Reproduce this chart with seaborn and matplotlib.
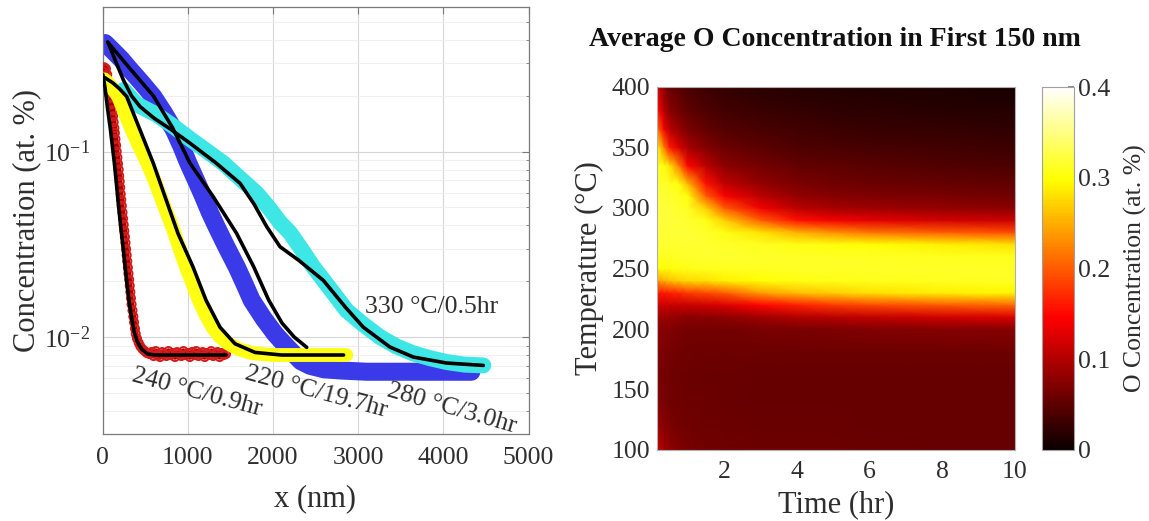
import numpy as np
import matplotlib
matplotlib.use("Agg")
import matplotlib.pyplot as plt
import seaborn as sns
from matplotlib.ticker import LogLocator, NullLocator, NullFormatter, FixedLocator

# ---------------- left panel: depth profiles (x in nm, concentration in at.%) ----------------
red_x = [5, 20, 40, 55, 70, 82, 93, 100, 108, 116, 124, 131, 139, 145, 152, 160, 167, 175,
         182, 190, 196, 202, 208, 214, 220, 227, 235, 242, 249, 256, 263, 270, 277, 284, 291,
         298, 305, 313, 320, 327, 334, 341, 352, 362, 371, 381, 390, 405, 425, 445, 470, 495,
         520, 550,
         575, 600, 625, 650, 675, 700, 725, 750, 775, 800, 825, 850, 875, 900, 925, 950, 975,
         1000, 1025, 1050, 1075, 1100, 1125, 1150, 1175, 1200, 1225, 1250, 1275, 1300, 1325,
         1350, 1375, 1400, 1425, 1450]
red_c = [0.27, 0.285, 0.28, 0.26, 0.24, 0.223, 0.207, 0.195, 0.18, 0.167, 0.155, 0.144,
         0.134, 0.126, 0.117, 0.108, 0.1, 0.093, 0.086, 0.08, 0.074, 0.069, 0.064, 0.059,
         0.055, 0.051, 0.047, 0.0435, 0.0403, 0.0374, 0.0347, 0.0322, 0.0298, 0.0276, 0.0256,
         0.0237, 0.022, 0.0204, 0.0189, 0.0175, 0.0162, 0.015, 0.0139, 0.0129, 0.012, 0.0111,
         0.0104, 0.0098, 0.0093, 0.0089, 0.0086, 0.0084, 0.0082, 0.0081,
         0.0083, 0.0079, 0.0084, 0.0080, 0.0078, 0.0083, 0.0081, 0.0079, 0.0084, 0.0080,
         0.0082, 0.0078, 0.0083, 0.0081, 0.0079, 0.0084, 0.0080, 0.0082, 0.0078, 0.0083,
         0.0080, 0.0084, 0.0079, 0.0081, 0.0083, 0.0078, 0.0082, 0.0080, 0.0084, 0.0079,
         0.0081, 0.0083, 0.0078, 0.0082, 0.0080, 0.0081]
red_fit_x = [5, 30, 60, 90, 115, 140, 165, 190, 215, 240, 265, 290, 315, 345, 375, 410, 460,
             530, 620, 1450]
red_fit_c = [0.26, 0.22, 0.17, 0.135, 0.108, 0.086, 0.066, 0.05, 0.039, 0.031, 0.024, 0.019,
             0.0152, 0.0124, 0.0105, 0.0094, 0.0086, 0.0081, 0.0080, 0.0080]

yellow_x = [25, 90, 185, 260, 343, 430, 526, 605, 683, 760, 830, 905, 980, 1060, 1130, 1210,
            1290, 1380, 1480, 1600, 1750, 2000, 2300, 2600, 2860]
yellow_c = [0.245, 0.228, 0.198, 0.162, 0.131, 0.107, 0.0866, 0.071, 0.0571, 0.046, 0.038,
            0.030, 0.0239, 0.0192, 0.0158, 0.0132, 0.0113, 0.0100, 0.0092, 0.0086, 0.0082,
            0.0080, 0.0080, 0.0080, 0.0080]
yellow_fit_x = [30, 120, 200, 284, 440, 596, 734, 886, 1062, 1215, 1379, 1555, 1790, 2100,
                2500, 2830]
yellow_fit_c = [0.25, 0.235, 0.218, 0.198, 0.131, 0.0866, 0.0571, 0.0362, 0.0239, 0.0158,
                0.0113, 0.0092, 0.00826, 0.0080, 0.0080, 0.0080]

blue_x = [30, 108, 220, 323, 460, 596, 720, 839, 925, 1007, 1095, 1183, 1260, 1338, 1455,
          1575, 1665, 1751, 1890, 2025, 2130, 2224, 2330, 2435, 2600, 2800, 3100, 3500, 3900,
          4330]
blue_c = [0.385, 0.355, 0.315, 0.277, 0.235, 0.198, 0.162, 0.131, 0.107, 0.0866, 0.0705,
          0.0571, 0.047, 0.0394, 0.0306, 0.0239, 0.0194, 0.0158, 0.0126, 0.0104, 0.0092,
          0.0083, 0.0074, 0.0070, 0.0067, 0.0066, 0.0065, 0.0065, 0.0065, 0.0065]
blue_fit_x = [60, 323, 596, 820, 1027, 1300, 1574, 1775, 1951, 2107, 2250, 2397]
blue_fit_c = [0.39, 0.28, 0.2, 0.135, 0.0866, 0.0571, 0.0362, 0.0239, 0.0158, 0.0119,
              0.0100, 0.0088]

cyan_x = [250, 400, 636, 830, 1027, 1220, 1418, 1610, 1810, 1950, 2083, 2201, 2330, 2474,
          2660, 2866, 3060, 3257, 3450, 3644, 3840, 4040, 4250, 4469]
cyan_c = [0.215, 0.18, 0.158, 0.137, 0.117, 0.101, 0.0866, 0.072, 0.0596, 0.050, 0.0415,
          0.0365, 0.030, 0.0239, 0.0185, 0.0139, 0.0117, 0.0100, 0.0089, 0.00817, 0.0077,
          0.00733, 0.0071, 0.00703]
cyan_fit_x = [68, 150, 244, 340, 440, 600, 800, 1027, 1330, 1614, 1780, 1927, 2083, 2300,
              2592, 2850, 3061, 3374, 3648, 4040, 4469]
cyan_fit_c = [0.385, 0.31, 0.244, 0.2, 0.175, 0.152, 0.132, 0.111, 0.087, 0.0675, 0.052,
              0.0394, 0.0307, 0.026, 0.0202, 0.0145, 0.0113, 0.00883, 0.0078, 0.00724, 0.00703]

labels = ["330 \u00b0C/0.5hr", "240 \u00b0C/0.9hr", "220 \u00b0C/19.7hr", "280 \u00b0C/3.0hr"]
label_x = [3864, 1109, 2506, 4102]
label_c = [0.01453, 0.00502, 0.00502, 0.00412]
label_rot = [0, -15, -15, -16]

# ---------------- right panel: average O concentration in first 150 nm ----------------
times = [0.1, 0.2, 0.35, 0.5, 0.75, 1.0, 1.5, 2.0, 3.0, 4.0, 5.0, 6.0, 8.0, 10.0]
temps = [100, 120, 140, 160, 180, 200, 210, 220, 230, 240, 250, 260, 270, 280, 290, 300,
         310, 320, 335, 350, 365, 380, 400]
# one row per time, values listed by increasing temperature (at. %)
o_conc_by_time = [
    [0.14, 0.1, 0.08, 0.075, 0.078, 0.08, 0.09, 0.115, 0.15, 0.22, 0.29, 0.31, 0.32, 0.322, 0.324, 0.324, 0.322, 0.32, 0.315, 0.3, 0.24, 0.18, 0.14],
    [0.11, 0.085, 0.072, 0.068, 0.072, 0.078, 0.09, 0.12, 0.16, 0.24, 0.30, 0.312, 0.319, 0.321, 0.322, 0.322, 0.321, 0.317, 0.31, 0.28, 0.2, 0.15, 0.11],
    [0.09, 0.075, 0.066, 0.064, 0.068, 0.074, 0.087, 0.115, 0.16, 0.25, 0.30, 0.312, 0.317, 0.32, 0.321, 0.321, 0.319, 0.315, 0.302, 0.22, 0.14, 0.1, 0.075],
    [0.08, 0.068, 0.062, 0.061, 0.064, 0.072, 0.085, 0.115, 0.165, 0.26, 0.302, 0.312, 0.317, 0.319, 0.32, 0.319, 0.316, 0.31, 0.28, 0.16, 0.105, 0.078, 0.057],
    [0.072, 0.064, 0.06, 0.059, 0.062, 0.068, 0.08, 0.115, 0.17, 0.27, 0.305, 0.314, 0.317, 0.319, 0.319, 0.316, 0.31, 0.302, 0.22, 0.125, 0.085, 0.063, 0.047],
    [0.066, 0.061, 0.059, 0.058, 0.06, 0.065, 0.078, 0.115, 0.18, 0.275, 0.307, 0.315, 0.318, 0.319, 0.317, 0.312, 0.302, 0.255, 0.15, 0.095, 0.068, 0.052, 0.039],
    [0.062, 0.059, 0.058, 0.057, 0.059, 0.064, 0.078, 0.12, 0.19, 0.28, 0.309, 0.316, 0.317, 0.315, 0.307, 0.27, 0.2, 0.155, 0.105, 0.072, 0.054, 0.042, 0.031],
    [0.06, 0.058, 0.057, 0.057, 0.058, 0.064, 0.08, 0.125, 0.2, 0.29, 0.31, 0.316, 0.315, 0.305, 0.27, 0.2, 0.145, 0.11, 0.078, 0.058, 0.045, 0.035, 0.025],
    [0.059, 0.057, 0.056, 0.056, 0.058, 0.066, 0.09, 0.15, 0.24, 0.3, 0.312, 0.315, 0.31, 0.28, 0.2, 0.14, 0.105, 0.082, 0.063, 0.049, 0.038, 0.029, 0.02],
    [0.058, 0.057, 0.056, 0.056, 0.058, 0.068, 0.1, 0.165, 0.26, 0.305, 0.314, 0.314, 0.305, 0.25, 0.155, 0.105, 0.082, 0.068, 0.054, 0.042, 0.033, 0.025, 0.017],
    [0.058, 0.057, 0.056, 0.056, 0.058, 0.07, 0.105, 0.18, 0.27, 0.307, 0.314, 0.312, 0.302, 0.23, 0.14, 0.093, 0.074, 0.062, 0.05, 0.039, 0.03, 0.023, 0.015],
    [0.057, 0.056, 0.056, 0.056, 0.058, 0.072, 0.11, 0.19, 0.28, 0.309, 0.314, 0.311, 0.3, 0.215, 0.13, 0.088, 0.07, 0.059, 0.047, 0.036, 0.028, 0.021, 0.013],
    [0.056, 0.055, 0.055, 0.055, 0.058, 0.074, 0.12, 0.2, 0.29, 0.31, 0.314, 0.31, 0.29, 0.2, 0.12, 0.082, 0.066, 0.055, 0.043, 0.033, 0.025, 0.018, 0.011],
    [0.056, 0.055, 0.055, 0.055, 0.058, 0.075, 0.125, 0.21, 0.295, 0.311, 0.314, 0.309, 0.28, 0.19, 0.115, 0.078, 0.062, 0.052, 0.04, 0.03, 0.022, 0.016, 0.009],
]
time_ticks = [2, 4, 6, 8, 10]
temp_ticks = [100, 150, 200, 250, 300, 350, 400]
cbar_ticks = [0, 0.1, 0.2, 0.3, 0.4]
cbar_ticklabels = ["0", "0.1", "0.2", "0.3", "0.4"]

# ---------------- style ----------------
sns.set_theme(style="white")
plt.rcParams["font.family"] = ["Liberation Serif", "DejaVu Serif"]
plt.rcParams["mathtext.fontset"] = "stix"
plt.rcParams["axes.unicode_minus"] = False

GRAY = "#7a7a7a"
TXT = "#2e2e2e"
TICK_FS = 18.5
LABEL_FS = 22

fig = plt.figure(figsize=(11.49, 5.21), dpi=100)
fig.patch.set_facecolor("white")
W, H = 1149.0, 521.0

def box(l, t, r, b):
    return [l / W, 1 - b / H, (r - l) / W, (b - t) / H]

ax1 = fig.add_axes(box(102.5, 7.3, 528.5, 434))
ax2 = fig.add_axes(box(657, 87, 1015, 450))
cax = fig.add_axes(box(1042, 87, 1074, 450))

# ---------------- left panel ----------------
def band(x, y, color, lw, z):
    sns.lineplot(x=x, y=y, ax=ax1, color=color, lw=lw, sort=False, estimator=None,
                 solid_capstyle="round", solid_joinstyle="round", zorder=z)

band(blue_x, blue_c, "#3a3ae8", 13, 2)
band(cyan_x, cyan_c, "#3fe6e6", 11.5, 3)
band(red_x, red_c, "#a80000", 4, 4)
sns.scatterplot(x=red_x, y=red_c, ax=ax1, marker="o", s=34, zorder=5, legend=False)
pts = ax1.collections[-1]
pts.set_facecolor("none")
pts.set_edgecolor("#d41a1a")
pts.set_linewidth(1.4)
band(yellow_x, yellow_c, "#ffff14", 10, 6)

for fx, fc in [(red_fit_x, red_fit_c), (yellow_fit_x, yellow_fit_c),
               (blue_fit_x, blue_fit_c), (cyan_fit_x, cyan_fit_c)]:
    sns.lineplot(x=fx, y=fc, ax=ax1, color="black", lw=2.6, sort=False, estimator=None,
                 solid_capstyle="round", zorder=8)

ax1.set_yscale("log")
ax1.set_xlim(0, 5000)
ax1.set_ylim(0.003, 0.6)
ax1.set_xticks([0, 1000, 2000, 3000, 4000, 5000])
ax1.xaxis.set_minor_locator(NullLocator())
ax1.yaxis.set_major_locator(FixedLocator([0.01, 0.1]))
ax1.yaxis.set_minor_locator(LogLocator(base=10, subs=np.arange(2, 10)))
ax1.yaxis.set_minor_formatter(NullFormatter())
ax1.grid(True, which="major", color="#d6d6d6", lw=0.8, zorder=0)
ax1.grid(True, which="minor", axis="y", color="#ececec", lw=0.6, zorder=0)
ax1.set_axisbelow(True)
ax1.tick_params(axis="both", which="both", direction="in", top=True, right=True,
                colors=GRAY, labelcolor=TXT, labelsize=TICK_FS, pad=9)
ax1.tick_params(which="major", length=5, width=0.8)
ax1.tick_params(which="minor", length=2.5, width=0.6)
for s in ax1.spines.values():
    s.set_color(GRAY)
    s.set_linewidth(0.9)
ax1.set_xlabel("x (nm)", fontsize=LABEL_FS, color=TXT)
ax1.set_ylabel("Concentration (at. %)", fontsize=LABEL_FS, color=TXT)
ax1.xaxis.set_label_coords(0.5, -0.118)
ax1.yaxis.set_label_coords(-0.145, 0.5)

for txt, lx, lc, rot in zip(labels, label_x, label_c, label_rot):
    ax1.text(lx, lc, txt, fontsize=TICK_FS, color=TXT, ha="center", va="center",
             rotation=rot, rotation_mode="anchor", zorder=10)

# ---------------- right panel ----------------
C = np.array(o_conc_by_time).T
TT, YY = np.meshgrid(times, temps)
mesh = ax2.pcolormesh(TT, YY, C, cmap="hot", vmin=0, vmax=0.4, shading="gouraud",
                      rasterized=True)
ax2.set_xlim(0.15, 10)
ax2.set_ylim(100, 400)
ax2.set_xticks(time_ticks)
ax2.set_yticks(temp_ticks)
ax2.tick_params(axis="both", direction="in", colors=GRAY, labelcolor=TXT,
                labelsize=TICK_FS, length=4)
ax2.tick_params(axis="y", pad=5)
ax2.tick_params(axis="x", pad=8)
for s in ax2.spines.values():
    s.set_color("#b0b0b0")
    s.set_linewidth(0.8)
ax2.set_xlabel("Time (hr)", fontsize=LABEL_FS, color=TXT)
ax2.set_ylabel("Temperature (\u00b0C)", fontsize=LABEL_FS, color=TXT)
ax2.xaxis.set_label_coords(0.5, -0.112)
ax2.yaxis.set_label_coords(-0.148, 0.5)

cb = fig.colorbar(mesh, cax=cax, ticks=cbar_ticks)
cb.ax.set_yticklabels(cbar_ticklabels)
cb.ax.tick_params(direction="in", colors=GRAY, labelcolor=TXT, labelsize=TICK_FS,
                  length=4, pad=3)
cb.outline.set_edgecolor("#a0a0a0")
cb.outline.set_linewidth(0.8)
cb.set_label("O Concentration (at. %)", fontsize=TICK_FS, color=TXT, labelpad=10)

fig.text(835 / W, 1 - 40 / H, "Average O Concentration in First 150 nm", ha="center",
         va="center", fontsize=20, fontweight="bold", color="#111111")

fig.savefig("out.png", dpi=100, facecolor="white")
